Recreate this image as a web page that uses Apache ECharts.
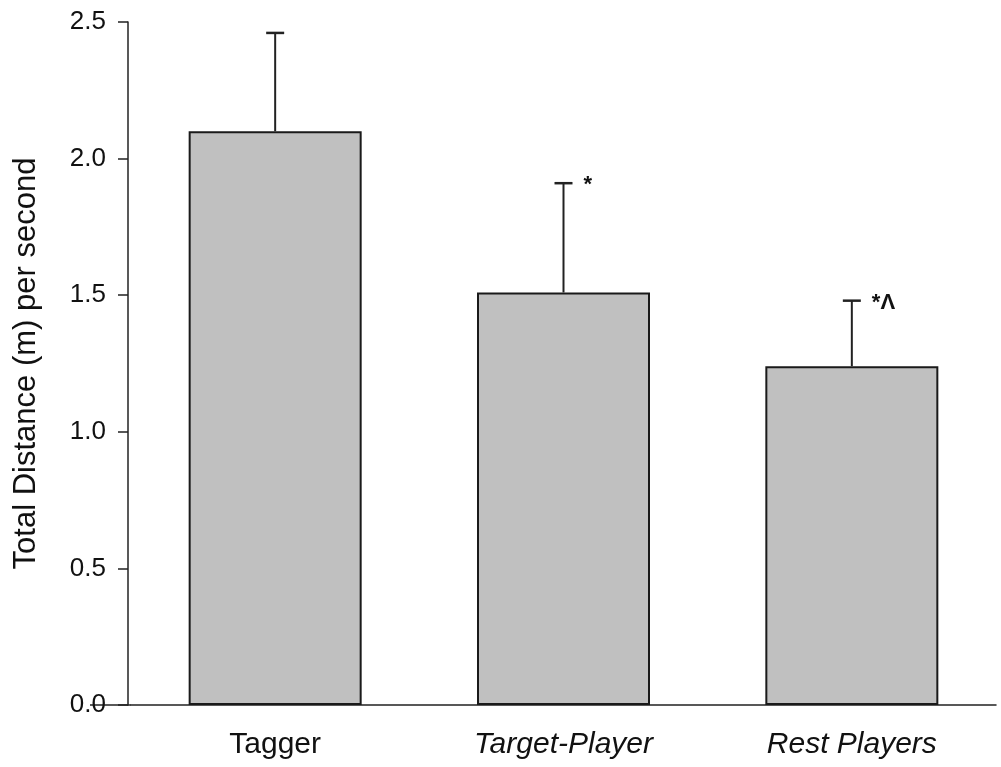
<!DOCTYPE html>
<html>
<head>
<meta charset="utf-8">
<script src="https://cdn.jsdelivr.net/npm/echarts@6/dist/echarts.min.js"></script>
<style>
  html, body { margin: 0; padding: 0; background: #fff; }
  #main { width: 1001px; height: 767px; }
</style>
</head>
<body>
<div id="main"></div>
<script>
// data
var categories = ['Tagger', 'Target-Player', 'Rest Players'];
var means = [2.10, 1.51, 1.24];
var upper = [2.46, 1.91, 1.48];   // top of error bars (mean + SD)
var marks = ['', '*', '*Λ'];      // significance marks

var myChart = echarts.init(document.getElementById('main'));

var errData = categories.map(function (c, i) { return [i, means[i], upper[i]]; });

myChart.setOption({
  animation: false,
  grid: { left: 131, right: 5, top: 22, bottom: 62 },
  xAxis: {
    type: 'category',
    data: categories,
    axisLine: { lineStyle: { color: '#222', width: 1.5 } },
    axisTick: { alignWithLabel: true, length: 5, lineStyle: { color: '#222', width: 1.5 } },
    axisLabel: {
      margin: 25,
      fontFamily: 'Liberation Sans',
      fontSize: 30,
      color: '#111',
      formatter: function (v) { return v === 'Tagger' ? v : '{it|' + v + '}'; },
      rich: { it: { fontStyle: 'italic', fontFamily: 'Liberation Sans', fontSize: 30, color: '#111' } }
    }
  },
  yAxis: {
    type: 'value',
    min: 0, max: 2.5, interval: 0.5,
    offset: 3,
    name: 'Total Distance (m) per second',
    nameLocation: 'middle',
    nameGap: 86,
    nameTextStyle: { fontFamily: 'Liberation Sans', fontSize: 31, color: '#111' },
    axisLine: { show: true, lineStyle: { color: '#222', width: 1.5 } },
    axisTick: { show: true, length: 10, lineStyle: { color: '#222', width: 1.5 } },
    splitLine: { show: false },
    axisLabel: {
      margin: 22,
      fontFamily: 'Liberation Sans',
      fontSize: 26,
      color: '#111',
      formatter: function (v) { return v.toFixed(1); }
    }
  },
  series: [
    {
      type: 'bar',
      data: means,
      barWidth: '60%',
      itemStyle: { color: '#c0c0c0', borderColor: '#1a1a1a', borderWidth: 2 }
    },
    {
      type: 'custom',
      data: errData,
      z: 5,
      renderItem: function (params, api) {
        var x = api.value(0);
        var lo = api.coord([x, api.value(1)]);
        var hi = api.coord([x, api.value(2)]);
        var hw = 9;
        var children = [
          { type: 'line', shape: { x1: lo[0], y1: lo[1], x2: hi[0], y2: hi[1] }, style: { stroke: '#222', lineWidth: 2 } },
          { type: 'line', shape: { x1: hi[0] - hw, y1: hi[1], x2: hi[0] + hw, y2: hi[1] }, style: { stroke: '#222', lineWidth: 2.5 } }
        ];
        var m = marks[params.dataIndex];
        if (m) {
          children.push({
            type: 'text',
            style: {
              text: m, x: hi[0] + 20, y: hi[1] + 2,
              fill: '#111', font: 'bold 22px Liberation Sans',
              textAlign: 'left', textVerticalAlign: 'middle'
            }
          });
        }
        return { type: 'group', children: children };
      }
    }
  ]
});

// x axis line runs a bit left past the y axis, as in the original
var p0 = myChart.convertToPixel({ gridIndex: 0 }, [0, 0]);
myChart.setOption({
  graphic: [{
    type: 'line',
    shape: { x1: 90, y1: p0[1], x2: 131, y2: p0[1] },
    style: { stroke: '#222', lineWidth: 1.5 }
  }]
});
</script>
</body>
</html>
